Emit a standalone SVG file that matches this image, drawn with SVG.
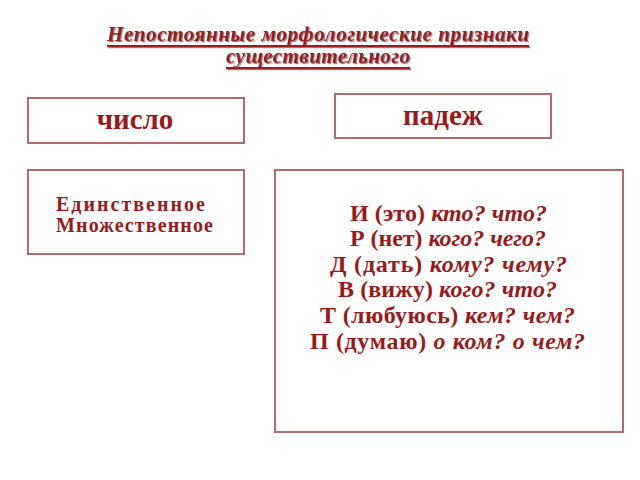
<svg xmlns="http://www.w3.org/2000/svg" width="640" height="480" viewBox="0 0 640 480">
<defs>
<filter id="shadow" x="-5%" y="-20%" width="110%" height="150%">
<feDropShadow dx="1.2" dy="1.2" stdDeviation="0.6" flood-color="#333" flood-opacity="0.6"/>
</filter>
</defs>
<style>
.box{fill:#fff;stroke:#b36b6b;stroke-width:2}
.t{fill:#9a1a1a;font-family:"Liberation Serif","DejaVu Serif",serif;font-weight:bold}
.ttl{font-style:italic;font-size:21px}
.ul{stroke:#9a1a1a;stroke-width:1.8}
.it{font-style:italic}
</style>
<rect width="640" height="480" fill="#fff"/>
<g id="title" filter="url(#shadow)">
<text class="t ttl" x="318" y="41" text-anchor="middle" textLength="422">Непостоянные морфологические признаки</text>
<text class="t ttl" x="318" y="63" text-anchor="middle" textLength="184">существительного</text>
<line class="ul" x1="107" y1="46" x2="529" y2="46"/>
<line class="ul" x1="226" y1="68" x2="410" y2="68"/>
</g>
<g id="chislo">
<rect class="box" x="28" y="98" width="216" height="45"/>
<text class="t" x="135" y="129" text-anchor="middle" font-size="29">число</text>
</g>
<g id="padezh">
<rect class="box" x="335" y="94" width="216" height="44"/>
<text class="t" x="443" y="125" text-anchor="middle" font-size="29">падеж</text>
</g>
<g id="chislo-values">
<rect class="box" x="28" y="170" width="216" height="84"/>
<text class="t" x="56" y="211" font-size="20" textLength="149">Единственное</text>
<text class="t" x="56" y="232" font-size="20" textLength="157">Множественное</text>
</g>
<g id="padezh-values">
<rect class="box" x="275" y="170" width="348" height="262"/>
<g class="t" font-size="24">
<text x="350" y="221" textLength="197">И (это) <tspan class="it">кто? что?</tspan></text>
<text x="350" y="246" textLength="196">Р (нет) <tspan class="it">кого? чего?</tspan></text>
<text x="330" y="272" textLength="237">Д (дать) <tspan class="it">кому? чему?</tspan></text>
<text x="338" y="297" textLength="219">В (вижу) <tspan class="it">кого? что?</tspan></text>
<text x="320" y="323" textLength="255">Т (любуюсь) <tspan class="it">кем? чем?</tspan></text>
<text x="310" y="349" textLength="275">П (думаю) <tspan class="it">о ком? о чем?</tspan></text>
</g>
</g>
<g id="connectors"/>
</svg>
